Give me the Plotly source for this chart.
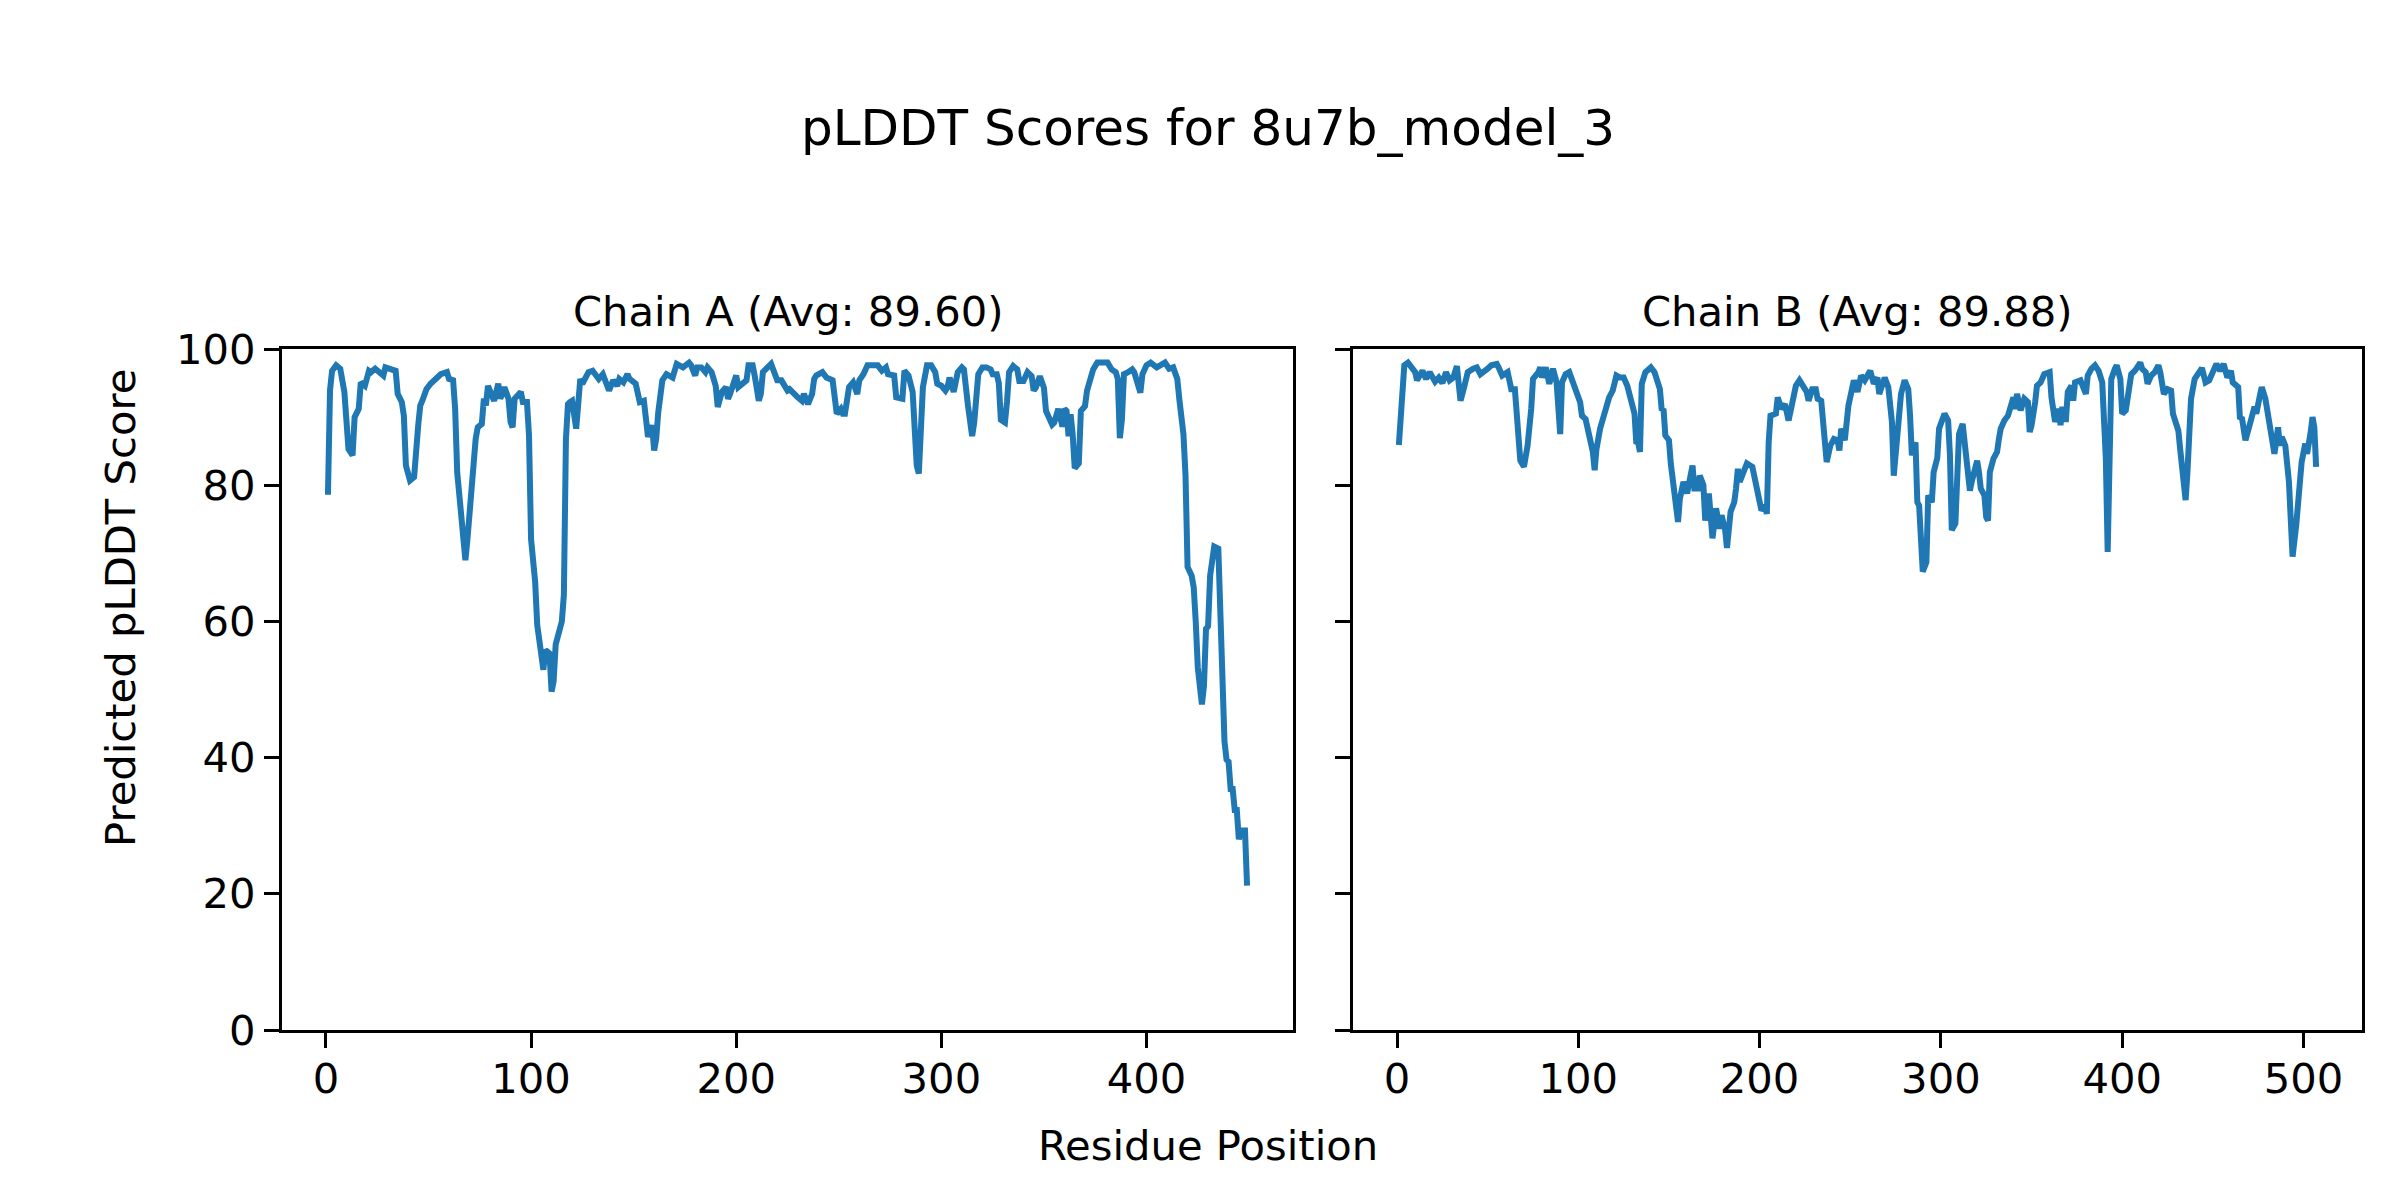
import plotly.graph_objects as go

# ---------------- data ----------------
chain_a_res = [1, 2, 3, 5, 7, 8, 9, 11, 13, 14, 16, 17, 19, 21, 22, 24, 25, 28, 29, 32, 34, 35, 37, 38, 39, 41, 43, 45, 46, 47, 49, 51, 54, 56, 59, 60, 62, 63, 64, 66, 68, 69, 71, 72, 73, 74, 76, 77, 78, 79, 82, 84, 85, 87, 89, 90, 91, 92, 95, 96, 98, 99, 100, 102, 103, 106, 107, 109, 110, 111, 112, 115, 116, 117, 118, 119, 120, 122, 124, 125, 128, 130, 133, 135, 137,
               138, 140, 142, 143, 145, 147, 148, 151, 153, 155, 156, 157, 159, 160, 161, 162, 164, 166, 169, 171, 174, 177, 178, 180, 181, 183, 185, 186, 188, 190, 191, 193, 195, 196, 197, 199, 200, 201, 204, 205, 206, 208, 209, 211, 212, 213, 217, 218, 220, 222, 225, 226, 229, 230, 232, 233, 235, 237, 238, 239, 242, 244, 247, 248, 249, 251, 252, 253, 255, 257, 259, 260, 262, 264, 267, 269, 271, 273, 274, 277, 278, 281, 282, 284, 286, 287, 288, 289, 290, 291, 293, 295, 297, 298, 300, 302, 303, 304, 306, 308,
               310, 311, 313, 315, 316, 318, 320, 322, 324, 325, 327, 328, 329, 331, 332, 333, 335, 337, 338, 340, 342, 344, 345, 346, 348, 350, 351, 354, 355, 357, 358, 359, 360, 361, 362, 363, 364, 365, 367, 368, 370, 371, 374, 376, 380, 381, 383, 385, 386, 387, 388, 389, 391, 393, 394, 396, 397, 398, 400, 402, 405, 409, 411, 413, 415, 416, 417, 418, 419, 420, 422, 423, 424, 425, 427, 428, 429, 430, 431, 432, 433, 435, 436, 437, 438, 439, 440, 441, 442, 443, 444, 445, 446, 448, 449]
chain_a_plddt = [78.6, 93.9, 96.8, 97.6, 97.1, 94.6, 93.7, 85.3, 84.4, 90.0, 91.2, 95.1, 94.6, 96.8, 96.6, 97.1, 96.8, 96.1, 97.3, 97.1, 96.8, 93.4, 92.2, 90.2, 82.9, 80.7, 81.2, 88.8, 91.7, 92.4, 94.1, 94.9, 95.6, 96.3, 96.6, 95.6, 95.4, 91.2, 81.9, 74.6, 69.0, 72.1, 80.9, 85.3, 86.8, 88.5, 89.0, 92.7, 91.7, 94.6, 92.4, 94.9, 92.7, 94.4, 92.7, 89.3, 88.5, 92.7, 93.7, 92.2, 92.2, 87.3, 72.1, 65.8, 59.5, 52.9, 55.8, 55.3, 49.7, 51.2, 56.6, 60.0, 63.9, 86.8, 91.9, 92.2, 92.4, 88.3, 95.6, 94.9, 96.6, 96.8, 95.6, 96.3, 94.9,
                 93.9, 95.4, 94.6, 95.6, 95.1, 96.3, 95.6, 94.9, 92.2, 92.4, 89.7, 87.1, 88.8, 85.1, 86.8, 90.7, 95.4, 96.3, 95.8, 97.8, 97.3, 98.0, 97.6, 96.1, 97.3, 97.3, 96.6, 97.3, 96.6, 94.6, 91.5, 93.7, 94.4, 92.7, 93.4, 95.8, 96.1, 94.4, 95.1, 95.4, 97.6, 97.6, 96.1, 92.4, 93.4, 96.6, 97.8, 97.1, 95.4, 95.4, 93.9, 94.1, 93.4, 92.9, 92.4, 93.4, 91.9, 93.4, 95.6, 96.1, 96.6, 95.8, 95.4, 92.2, 90.5, 91.2, 90.5, 90.5, 94.4, 95.1, 93.4, 95.4, 96.3, 97.6, 97.6, 97.6, 96.8, 97.3, 96.3, 96.1, 92.9, 92.7, 96.8, 96.1, 93.7, 88.3, 82.9, 81.7, 88.8, 94.4, 97.6, 97.6, 96.6, 94.9, 94.6, 93.9, 94.4, 95.8, 93.7, 96.6,
                 97.3, 97.0, 91.6, 87.2, 89.2, 96.3, 97.3, 97.3, 97.0, 96.3, 96.3, 95.0, 89.6, 89.2, 92.3, 96.6, 97.5, 97.0, 95.3, 95.3, 96.6, 96.0, 93.9, 94.3, 96.0, 94.3, 90.9, 88.9, 89.2, 91.2, 89.9, 88.6, 91.2, 90.9, 87.2, 90.4, 87.5, 82.5, 83.2, 90.9, 91.6, 93.9, 97.0, 98.0, 98.0, 98.0, 97.0, 96.6, 95.6, 86.9, 89.6, 96.3, 96.6, 97.0, 96.6, 95.0, 93.6, 96.3, 97.6, 98.0, 97.3, 98.0, 97.1, 97.3, 95.6, 92.6, 90.6, 87.5, 81.5, 68.0, 66.7, 65.0, 59.9, 53.2, 47.8, 50.5, 58.9, 59.3, 66.7, 69.4, 71.0, 70.7, 58.6, 49.8, 42.4, 39.7, 39.4, 35.4, 35.4, 32.3, 32.3, 28.0, 29.3, 29.3, 21.2]

chain_b_res = [1, 3, 4, 6, 8, 10, 11, 14, 16, 18, 21, 23, 25, 27, 29, 31, 33, 34, 35, 37, 39, 42, 44, 46, 48, 50, 52, 55, 56, 58, 61, 63, 65, 67, 68, 70, 72, 74, 75, 78, 79, 80, 82, 84, 85, 86, 88, 89, 90, 91, 93, 95, 97, 99, 101, 102, 104, 106, 108, 109, 110, 112, 114, 117, 119, 121, 123, 125, 127, 129, 131, 132, 133, 134, 135, 137, 140, 142, 144, 145, 146, 147, 148, 150, 151, 153, 154, 155, 156, 157, 158, 160,
               163, 164, 166, 167, 169, 170, 172, 174, 176, 178, 179, 181, 182, 184, 186, 187, 188, 189, 191, 193, 196, 198, 199, 201, 203, 204, 205, 206, 209, 210, 212, 214, 216, 218, 220, 222, 224, 226, 227, 229, 231, 232, 234, 235, 237, 239, 241, 243, 244, 245, 247, 249, 251, 252, 254, 256, 258, 261, 263, 265, 266, 267, 269, 271, 273, 274, 276, 278, 280, 282, 283, 284, 286, 287, 288, 289, 290, 292, 293, 295, 296, 298, 299, 302, 304, 305, 306, 308, 309, 310, 312, 314, 316, 317, 318, 320, 321, 322, 324, 325, 326, 327, 329, 331, 332, 333, 335, 337,
               340, 341, 342, 344, 346, 348, 349, 350, 352, 353, 355, 357, 360, 361, 363, 365, 366, 367, 368, 369, 370, 372, 373, 374, 377, 378, 380, 381, 383, 385, 387, 389, 391, 392, 393, 394, 396, 397, 399, 400, 402, 403, 405, 407, 409, 410, 411, 413, 414, 416, 418, 420, 421, 423, 425, 427, 428, 431, 432, 434, 435, 436, 437, 438, 440, 442, 444, 446, 448, 450, 452, 454, 456, 458, 460, 461, 464, 465, 466, 468, 469, 471, 473, 474, 476, 477, 479, 480, 482, 484, 486, 487, 488, 490, 492, 493, 494, 496, 498, 499, 501, 502, 504, 505, 506, 507]
chain_b_plddt = [85.9, 96.1, 97.6, 98.0, 97.1, 96.6, 95.4, 96.8, 95.6, 96.6, 95.2, 95.8, 95.0, 96.6, 95.4, 95.8, 97.5, 95.1, 92.4, 94.4, 96.6, 97.1, 97.3, 96.3, 96.6, 97.1, 97.6, 97.8, 97.3, 96.1, 96.6, 94.1, 94.1, 84.9, 83.6, 82.7, 85.8, 91.2, 95.6, 96.6, 97.3, 95.8, 97.3, 94.9, 95.8, 97.1, 95.1, 90.7, 87.5, 95.1, 96.3, 96.6, 95.1, 93.2, 92.2, 90.2, 89.7, 87.3, 84.9, 82.2, 85.3, 88.3, 90.2, 92.9, 93.9, 96.1, 95.8, 95.8, 94.6, 92.4, 90.5, 86.1, 86.3, 84.9, 94.9, 96.6, 97.3, 96.6, 95.1, 94.1, 91.0, 91.2, 87.3, 86.6, 83.2, 79.0, 75.3, 74.6, 78.0, 79.5, 80.5, 78.8,
                 82.9, 79.5, 79.5, 81.4, 80.0, 74.8, 78.8, 72.2, 76.6, 73.6, 75.6, 73.4, 70.8, 76.1, 77.5, 79.5, 82.4, 80.5, 82.2, 83.2, 82.7, 80.5, 78.5, 76.3, 77.0, 75.8, 86.3, 90.2, 90.5, 92.9, 91.2, 91.9, 89.5, 91.9, 94.6, 95.4, 94.6, 93.7, 92.4, 94.1, 94.1, 92.7, 92.4, 88.8, 83.4, 85.8, 86.8, 86.6, 85.1, 88.3, 86.6, 91.7, 93.7, 95.4, 93.7, 96.1, 95.4, 96.8, 94.9, 95.8, 93.4, 94.4, 95.8, 94.4, 89.3, 81.4, 86.8, 93.4, 95.4, 94.1, 90.2, 84.4, 86.3, 77.5, 77.0, 70.2, 67.3, 68.7, 78.5, 77.5, 81.9, 84.0, 88.3, 90.5, 89.5, 84.4, 73.4, 74.4, 81.9, 87.5, 89.0, 82.9, 79.2, 80.5, 81.4, 83.6, 81.9, 79.5, 78.5, 75.3, 74.8, 81.9, 83.9, 84.9, 86.8, 88.3, 89.5, 90.2,
                 92.9, 91.2, 93.4, 91.0, 92.7, 92.2, 87.8, 88.8, 92.2, 94.6, 95.1, 96.3, 96.6, 92.9, 89.3, 91.2, 88.8, 91.5, 89.7, 89.7, 93.7, 94.6, 92.4, 95.1, 95.4, 94.6, 93.4, 96.1, 97.1, 97.6, 96.8, 95.1, 83.9, 70.2, 86.8, 95.6, 97.1, 97.6, 95.6, 90.5, 91.0, 93.2, 96.3, 96.8, 97.8, 98.0, 97.1, 96.6, 94.9, 96.1, 96.6, 97.6, 96.6, 93.4, 94.1, 93.9, 90.5, 88.0, 85.3, 81.0, 77.8, 81.9, 89.3, 92.7, 95.6, 96.6, 97.2, 95.1, 95.4, 96.6, 97.8, 96.8, 97.8, 95.8, 96.8, 95.1, 94.4, 89.7, 90.0, 86.6, 87.8, 89.5, 91.5, 90.5, 93.2, 94.4, 92.7, 91.0, 87.8, 84.6, 88.5, 85.8, 87.1, 85.8, 80.5, 74.1, 69.5, 74.1, 79.2, 83.4, 86.1, 84.6, 87.8, 90.0, 88.5, 82.7]

chain_names = ["A", "B"]
chain_avgs = ["89.60", "89.88"]
x_ticks_a = [0, 100, 200, 300, 400]
x_ticks_b = [0, 100, 200, 300, 400, 500]
y_ticks = [0, 20, 40, 60, 80, 100]
main_title = "pLDDT Scores for 8u7b_model_3"
x_label = "Residue Position"
y_label = "Predicted pLDDT Score"

# ---------------- figure ----------------
W, H = 2400, 1200
L, R, T, B = 274, 46, 341, 178
PW, PH = W - L - R, H - T - B
FONT = "DejaVu Sans"
BLUE = "#1f77b4"
LBL = 41.7


def padded(xs):
    lo, hi = min(xs), max(xs)
    m = 0.05 * (hi - lo)
    return [lo - m, hi + m]


fig = go.Figure()
fig.add_trace(go.Scatter(x=chain_a_res, y=chain_a_plddt, mode="lines",
                         line=dict(color=BLUE, width=6), xaxis="x", yaxis="y",
                         showlegend=False))
fig.add_trace(go.Scatter(x=chain_b_res, y=chain_b_plddt, mode="lines",
                         line=dict(color=BLUE, width=6), xaxis="x2", yaxis="y2",
                         showlegend=False))

axis_style = dict(showline=True, linecolor="black", linewidth=3.3, mirror=True,
                  ticks="outside", ticklen=15, tickwidth=3.3, tickcolor="black",
                  showgrid=False, zeroline=False,
                  tickfont=dict(family=FONT, size=LBL, color="black"))

dom_a = [0, (1285 - L) / PW]
dom_b = [(1345 - L) / PW, 1]

fig.update_layout(
    width=W, height=H,
    margin=dict(l=L, r=R, t=T, b=B, autoexpand=False),
    paper_bgcolor="white", plot_bgcolor="white",
    font=dict(family=FONT, color="black"),
    title=dict(text=main_title, x=(1200 - L) / PW, xref="paper", xanchor="center",
               y=1 - 119 / H, yref="container", yanchor="middle",
               font=dict(family=FONT, size=50, color="black")),
    xaxis=dict(domain=dom_a, range=padded(chain_a_res), tickmode="array",
               tickvals=x_ticks_a, anchor="y", ticklabelstandoff=-5, **axis_style),
    yaxis=dict(domain=[0, 1], range=[0, 100], tickmode="array",
               tickvals=y_ticks, anchor="x", **axis_style),
    xaxis2=dict(domain=dom_b, range=padded(chain_b_res), tickmode="array",
                tickvals=x_ticks_b, anchor="y2", ticklabelstandoff=-5, **axis_style),
    yaxis2=dict(domain=[0, 1], range=[0, 100], tickmode="array",
                tickvals=y_ticks, anchor="x2", showticklabels=False, **axis_style),
)

sub_y = 1 + (T - 303) / PH
for name, avg_txt, dom in zip(chain_names, chain_avgs, [dom_a, dom_b]):
    fig.add_annotation(text=f"Chain {name} (Avg: {avg_txt})",
                       x=sum(dom) / 2, y=sub_y, xref="paper", yref="paper",
                       xanchor="center", yanchor="middle", showarrow=False,
                       font=dict(family=FONT, size=LBL, color="black"))
fig.add_annotation(text=x_label, x=(1200 - L) / PW, y=-(1137 - (H - B)) / PH,
                   xref="paper", yref="paper", xanchor="center", yanchor="middle",
                   showarrow=False, font=dict(family=FONT, size=LBL, color="black"))
fig.add_annotation(text=y_label, x=(112 - L) / PW, y=(H - B - 600) / PH,
                   xref="paper", yref="paper", xanchor="center", yanchor="middle",
                   textangle=-90, showarrow=False,
                   font=dict(family=FONT, size=LBL, color="black"))

fig.write_html("out.html")
